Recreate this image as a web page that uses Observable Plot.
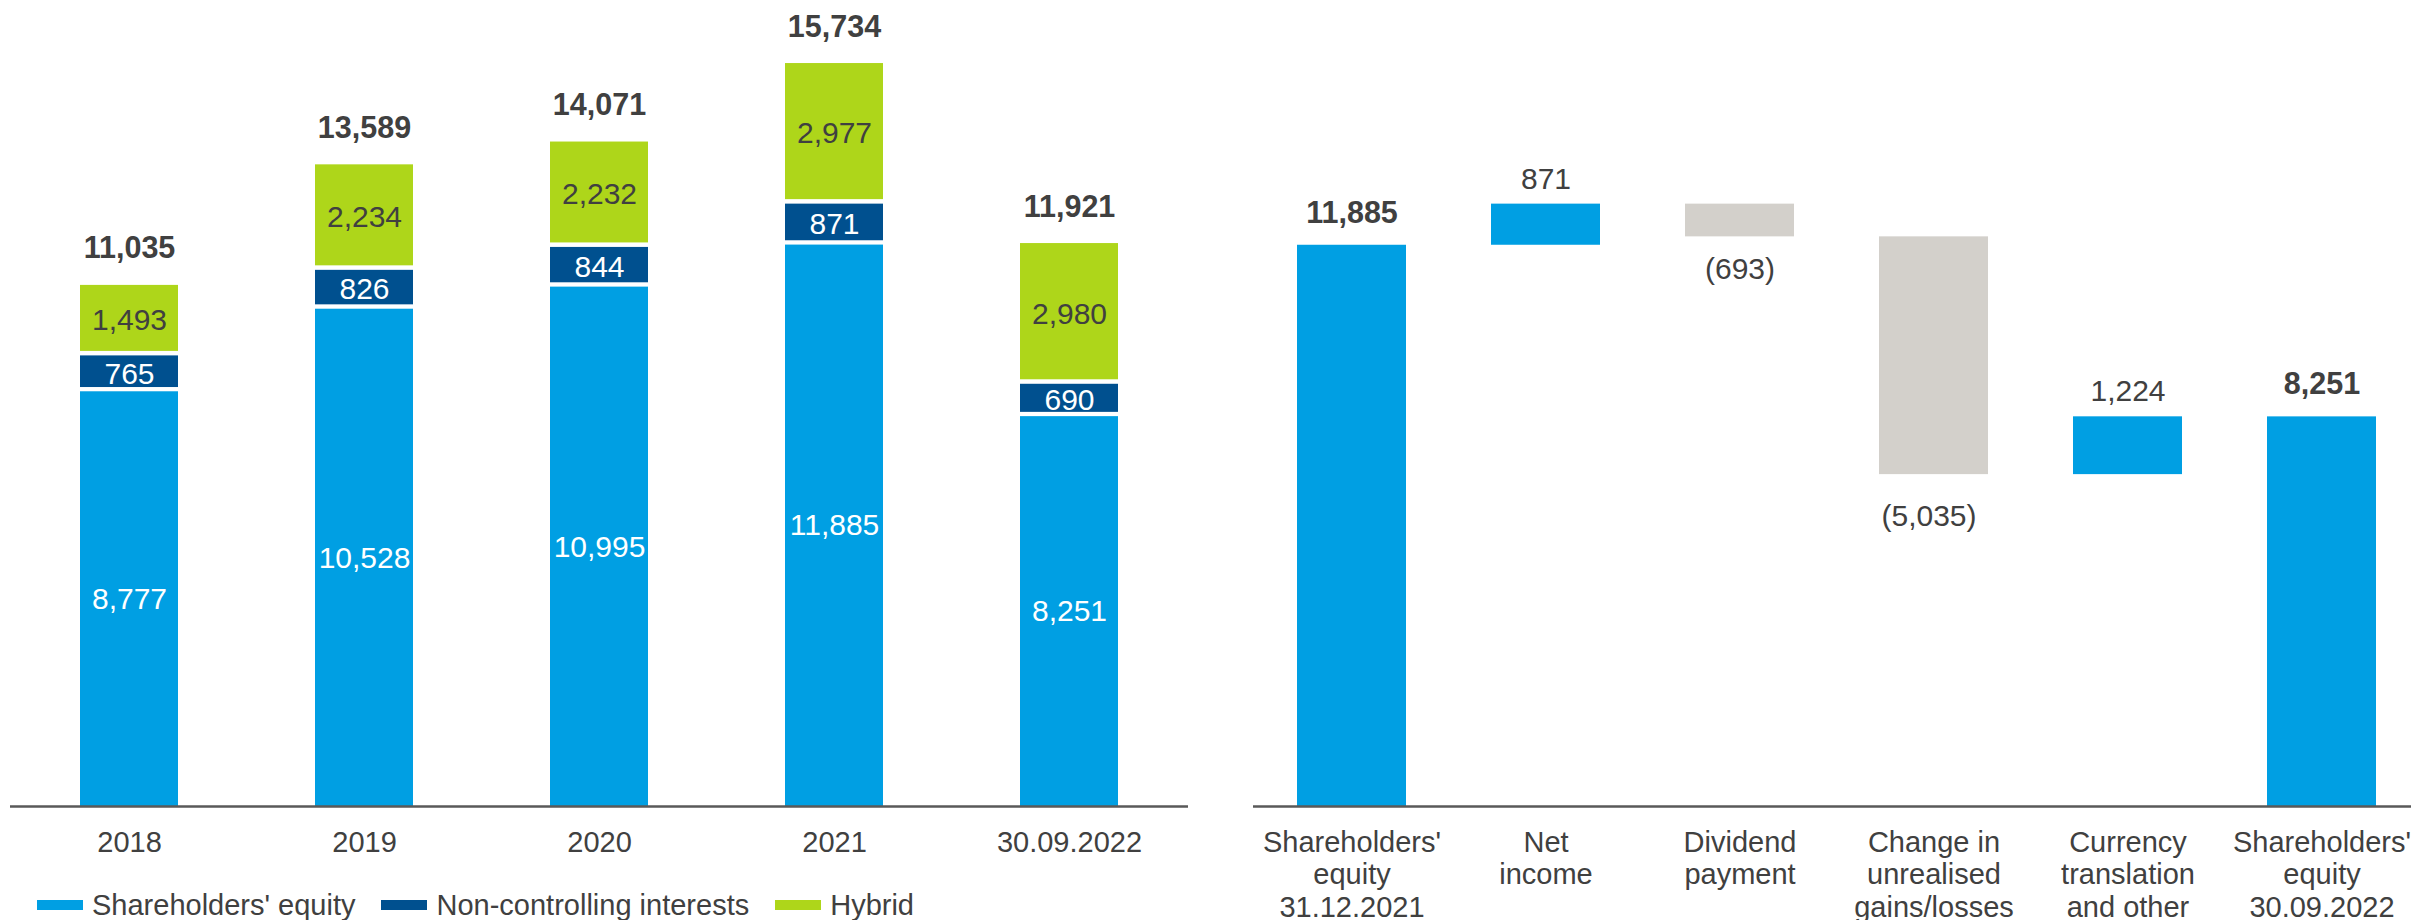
<!DOCTYPE html>
<html>
<head>
<meta charset="utf-8">
<script src="https://cdn.jsdelivr.net/npm/d3@7"></script>
<script src="https://cdn.jsdelivr.net/npm/@observablehq/plot@0.6"></script>
<style>
  html, body { margin: 0; padding: 0; background: #fff; overflow: hidden; width: 2411px; height: 920px; }
  #wrap { position: relative; width: 2411px; height: 920px; font-family: "Liberation Sans", Arial, sans-serif; color: #404040; }
  #left { position: absolute; left: 0; top: 0; width: 1200px; }
  #right { position: absolute; left: 1200px; top: 0; width: 1211px; }
  #legend { position: absolute; left: 37px; top: 888px; height: 34px; display: flex; align-items: center; font-size: 29px; white-space: nowrap; }
  .item { display: flex; align-items: center; margin-right: 26px; }
  .sw { display: inline-block; width: 46px; height: 10px; margin-right: 9px; }
</style>
</head>
<body>
<div id="wrap"><div id="left"></div><div id="right"></div><div id="legend"></div></div>
<script>
// ---- Left chart data (stacked equity) ----
const years = ["2018", "2019", "2020", "2021", "30.09.2022"];
const shareholdersEquity = [8777, 10528, 10995, 11885, 8251];
const nonControlling = [765, 826, 844, 871, 690];
const hybrid = [1493, 2234, 2232, 2977, 2980];
const totals = [11035, 13589, 14071, 15734, 11921];
const seriesNames = ["Shareholders' equity", "Non-controlling interests", "Hybrid"];

// ---- Right chart data (waterfall) ----
const steps = [
  "Shareholders'\nequity\n31.12.2021",
  "Net\nincome",
  "Dividend\npayment",
  "Change in\nunrealised\ngains/losses",
  "Currency\ntranslation\nand other",
  "Shareholders'\nequity\n30.09.2022"
];
const changes = [11885, 871, -693, -5035, 1224, 8251];
const kinds = ["total", "delta", "delta", "delta", "delta", "total"];

// ---- Styles ----
const FONT = "'Liberation Sans', Arial, sans-serif";
const TXT = "#404040";
const LIGHT = "#009FE3";
const DARK = "#00508F";
const GREEN = "#AED61A";
const GREY = "#D3D0CB";
const seriesColors = [LIGHT, DARK, GREEN];
const colorOf = new Map(seriesNames.map((s, i) => [s, seriesColors[i]]));
const fmt = d3.format(",");
const VAL = 30, BOLD = 30.5, AX = 29;

const seriesValues = [shareholdersEquity, nonControlling, hybrid];
const rows = years.flatMap((yr, i) => seriesNames.map((s, k) => ({year: yr, series: s, value: seriesValues[k][i]})));
const totalRows = years.map((yr, i) => ({year: yr, total: totals[i]}));

const left = Plot.plot({
  width: 1200, height: 880,
  marginLeft: 10, marginRight: 12, marginTop: 20, marginBottom: 74,
  style: {fontFamily: FONT, fontSize: "28px", color: TXT, background: "white", overflow: "visible"},
  x: {type: "band", domain: years, range: [78.75, 1120.25], paddingInner: 0.582, paddingOuter: 0, axis: null},
  y: {domain: [0, 15734], range: [806, 63], axis: null},
  color: {type: "identity"},
  marks: [
    Plot.barY(rows, {x: "year", y: "value", z: "series", fill: d => colorOf.get(d.series), insetBottom: 4.5}),
    Plot.barY(rows.filter(d => d.series === seriesNames[0]), {x: "year", y: "value", fill: d => colorOf.get(d.series)}),
    Plot.text(rows, Plot.stackY({x: "year", y: "value", z: "series", text: d => fmt(d.value),
      fill: d => d.series === "Hybrid" ? TXT : "white", fontSize: VAL, fontFamily: FONT})),
    Plot.text(totalRows, {x: "year", y: "total", text: d => fmt(d.total), fontWeight: "bold", fontSize: BOLD,
      fontFamily: FONT, lineAnchor: "bottom", dy: -27, fill: TXT}),
    Plot.ruleY([0], {stroke: "#595959", strokeWidth: 2.3}),
    Plot.axisX({tickSize: 0, tickPadding: 25.4, fontSize: AX, fontFamily: FONT, label: null, fill: TXT})
  ]
});
document.getElementById("left").appendChild(left);

// waterfall geometry from the data
let run = 0;
const wf = steps.map((s, i) => {
  const v = changes[i];
  let y1, y2;
  if (kinds[i] === "total") { y1 = 0; y2 = v; run = v; }
  else { y1 = run; y2 = run + v; run = y2; }
  return {step: s, value: v, kind: kinds[i], y1, y2, lo: Math.min(y1, y2), hi: Math.max(y1, y2),
          label: v < 0 ? `(${fmt(-v)})` : fmt(v)};
});
const wfTotals = wf.filter(d => d.kind === "total");
const wfPos = wf.filter(d => d.kind === "delta" && d.value > 0);
const wfNeg = wf.filter(d => d.kind === "delta" && d.value < 0);

const right = Plot.plot({
  width: 1211, height: 920,
  marginLeft: 53, marginRight: 0, marginTop: 20, marginBottom: 114,
  style: {fontFamily: FONT, fontSize: "28px", color: TXT, background: "white", overflow: "visible"},
  x: {type: "band", domain: steps, range: [96, 1177], paddingInner: 0.439, paddingOuter: 0, axis: null},
  y: {domain: [0, 15734], range: [806, 63], axis: null},
  color: {type: "identity"},
  marks: [
    Plot.barY(wf, {x: "step", y1: "y1", y2: "y2", fill: d => (d.kind === "total" || d.value > 0) ? LIGHT : GREY}),
    Plot.text(wfTotals, {x: "step", y: "hi", text: "label", fontWeight: "bold", fontSize: BOLD, fontFamily: FONT,
      lineAnchor: "bottom", dy: -22.5, fill: TXT}),
    Plot.text(wfPos, {x: "step", y: "hi", text: "label", fontSize: VAL, fontFamily: FONT,
      lineAnchor: "bottom", dy: -15.5, fill: TXT}),
    Plot.text(wfNeg.slice(0, 1), {x: "step", y: "lo", text: "label", fontSize: VAL, fontFamily: FONT,
      lineAnchor: "top", dy: 21, fill: TXT}),
    Plot.text(wfNeg.slice(1), {x: "step", y: "lo", text: "label", fontSize: VAL, fontFamily: FONT,
      lineAnchor: "top", dy: 30, dx: -5, fill: TXT}),
    Plot.ruleY([0], {stroke: "#595959", strokeWidth: 2.3}),
    Plot.axisX({tickSize: 0, tickPadding: 22.1, fontSize: AX, fontFamily: FONT, lineHeight: 1.12, label: null, fill: TXT})
  ]
});
document.getElementById("right").appendChild(right);

// legend
const legend = d3.select("#legend");
seriesNames.forEach((s, i) => {
  const item = legend.append("div").attr("class", "item");
  item.append("span").attr("class", "sw").style("background", seriesColors[i]);
  item.append("span").text(s);
});
</script>
</body>
</html>
